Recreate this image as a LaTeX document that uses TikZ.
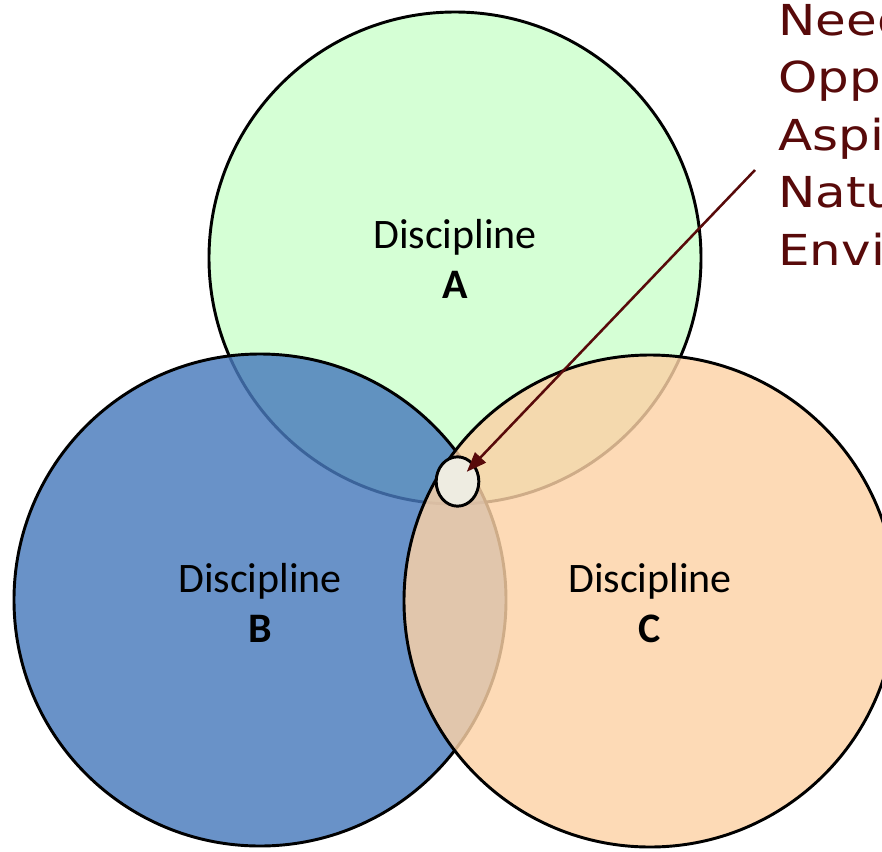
\documentclass[tikz,border=0pt]{standalone}
\usepackage{fontspec}
\setmainfont{Carlito}
\newfontfamily\verdanalike[FakeStretch=1.17]{DejaVu Sans}
\usetikzlibrary{arrows.meta,shapes.geometric}
\definecolor{cA}{RGB}{204,255,204}
\definecolor{cB}{RGB}{72,122,188}
\definecolor{cC}{RGB}{252,210,166}
\definecolor{cE}{RGB}{238,236,225}
\definecolor{dred}{RGB}{88,10,10}
\tikzset{
  disc/.style={circle,draw=black,line width=2.2pt,minimum size=369pt,inner sep=0pt,fill opacity=0.82},
  lbl/.style={font=\fontsize{31.5}{36}\selectfont,anchor=base},
  side/.style={font=\verdanalike\fontsize{32}{40}\selectfont,text=dred,anchor=base west,inner sep=0pt},
  arr/.style={draw=dred,line width=1.9pt,-{Triangle[length=15pt,width=11pt]}}
}
\begin{document}
\begin{tikzpicture}[x=0.75pt,y=-0.75pt]
\useasboundingbox (0,0) rectangle (882,851);
\clip (0,0) rectangle (882,851);
\node[disc,fill=cA] (A) at (455,258) {};
\node[disc,fill=cB] (B) at (260,600) {};
\node[disc,fill=cC] (C) at (650,601) {};
\node[lbl] (dA) at (455,248) {Discipline};
\node[lbl] (lA) at (455,298) {\bfseries A};
\node[lbl] (dB) at (260,592) {Discipline};
\node[lbl] (lB) at (260,642) {\bfseries B};
\node[lbl] (dC) at (650,592) {Discipline};
\node[lbl] (lC) at (650,642) {\bfseries C};
\node[ellipse,draw=black,line width=2.2pt,fill=cE,minimum width=32pt,minimum height=37pt,inner sep=0pt] (E) at (457.5,481.5) {};
\node[side] (t1) at (778,35) {Needs};
\node[side] (t2) at (778,92) {Opportunities};
\node[side] (t3) at (778,150) {Aspirations};
\node[side] (t4) at (778,207) {Natural};
\node[side] (t5) at (778,265) {Environment};
\coordinate (src) at (755,170);
\draw[arr,shorten >=10pt] (src) -- (E.center);
\end{tikzpicture}
\end{document}
